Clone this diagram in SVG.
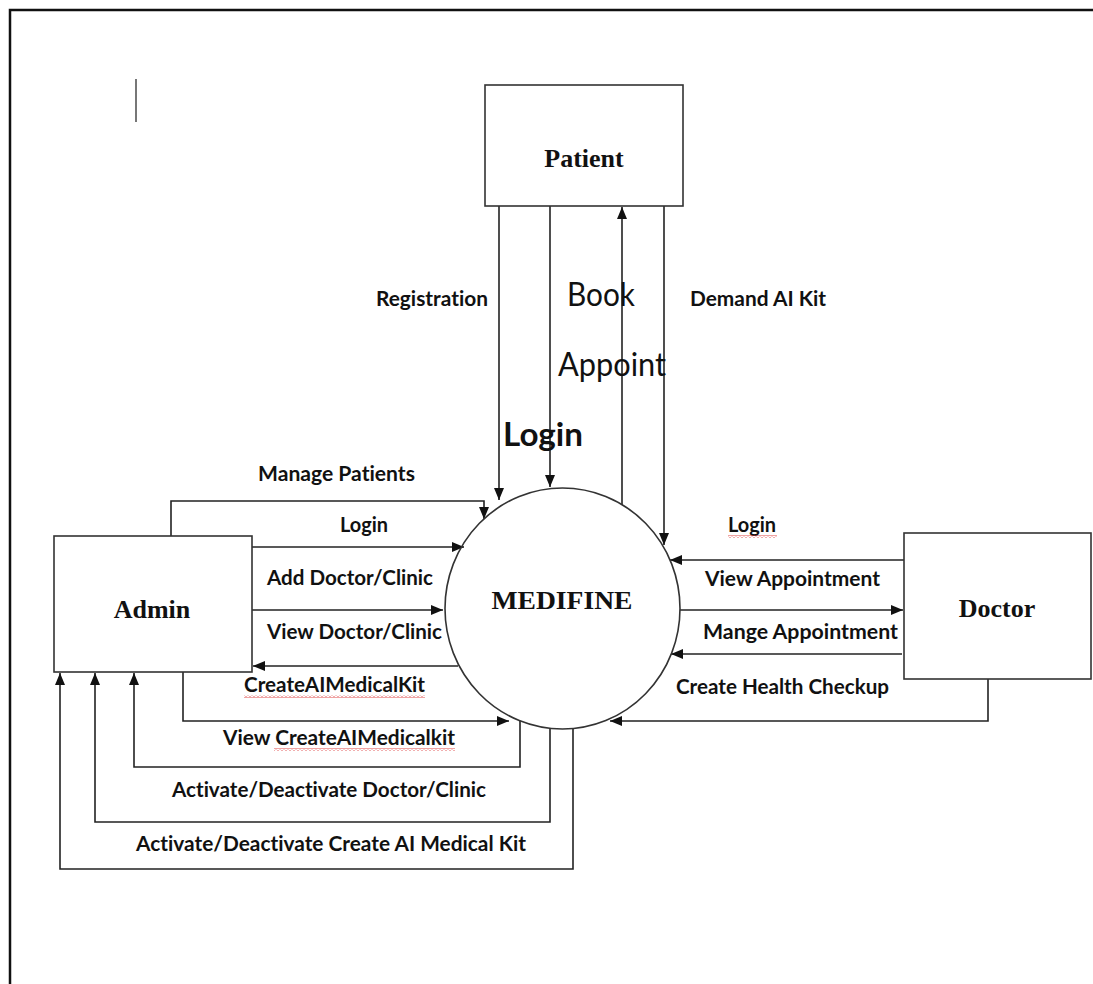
<svg xmlns="http://www.w3.org/2000/svg" width="1093" height="984" viewBox="0 0 1093 984">
<style>
.ln{stroke:#222;stroke-width:1.6;fill:none}
.ar{marker-end:url(#ah)}
.box{fill:#fff;stroke:#333;stroke-width:1.6}
.nt{font-family:"Liberation Serif","Times New Roman",serif;font-weight:bold;font-size:26px;fill:#111;text-anchor:middle}
.lb{font-family:Lato,"Open Sans",sans-serif;font-weight:bold;font-size:20.5px;fill:#111;font-variant-ligatures:none}
.big{font-family:Lato,"Open Sans",sans-serif;font-size:32px;fill:#111;font-variant-ligatures:none}
.sq{fill:url(#squiggle)}
</style>
<defs>
<marker id="ah" markerUnits="userSpaceOnUse" markerWidth="12" markerHeight="10" refX="12" refY="5" orient="auto">
<path d="M0,0 L12,5 L0,10 z" fill="#111"/>
</marker>
<pattern id="squiggle" patternUnits="userSpaceOnUse" width="4" height="3">
<path d="M0,2.5 L2,0.5 L4,2.5" stroke="#d33" stroke-width="0.9" fill="none"/>
</pattern>
</defs>
<rect width="1093" height="984" fill="#fff"/>
<path d="M10,984 V10 H1093" stroke="#111" stroke-width="2.5" fill="none"/>
<path d="M136,79 V122" stroke="#555" stroke-width="1.6"/>

<g id="connectors">
<path class="ln ar" d="M499,206 V500"/>
<path class="ln ar" d="M550,206 V487"/>
<path class="ln ar" d="M622,505 V207"/>
<path class="ln ar" d="M664,206 V545"/>
<path class="ln ar" d="M171,536 V501 H484 V519"/>
<path class="ln ar" d="M252,547 H464"/>
<path class="ln ar" d="M252,610 H443"/>
<path class="ln ar" d="M458,666 H253"/>
<path class="ln ar" d="M183,672 V721 H509"/>
<path class="ln ar" d="M520,721 V767 H134 V673"/>
<path class="ln ar" d="M550,728 V822 H95 V673"/>
<path class="ln ar" d="M573,728 V869 H60 V673"/>
<path class="ln ar" d="M904,560 H670"/>
<path class="ln ar" d="M680,610 H903"/>
<path class="ln ar" d="M902,654 H671"/>
<path class="ln ar" d="M988,679 V721 H610"/>
</g>

<g id="patient">
<rect class="box" x="485" y="85" width="198" height="121"/>
<text class="nt" x="584" y="167">Patient</text>
</g>
<g id="admin">
<rect class="box" x="54" y="536" width="198" height="136"/>
<text class="nt" x="152" y="618">Admin</text>
</g>
<g id="doctor">
<rect class="box" x="904" y="533" width="187" height="146"/>
<text class="nt" x="997" y="617">Doctor</text>
</g>
<g id="medifine">
<ellipse cx="562.5" cy="608.5" rx="117.5" ry="120.5" fill="none" stroke="#333" stroke-width="1.6"/>
<text class="nt" x="562" y="609" font-size="27" textLength="141" lengthAdjust="spacingAndGlyphs">MEDIFINE</text>
</g>

<g id="labels">
<text class="lb" x="376" y="306" textLength="112" lengthAdjust="spacingAndGlyphs">Registration</text>
<text class="big" x="567" y="306" textLength="68" lengthAdjust="spacingAndGlyphs">Book</text>
<text class="big" x="558" y="376" textLength="108" lengthAdjust="spacingAndGlyphs">Appoint</text>
<text class="big" x="503" y="446" font-weight="bold" font-size="36" textLength="80" lengthAdjust="spacingAndGlyphs">Login</text>
<text class="lb" x="690" y="306" textLength="136" lengthAdjust="spacingAndGlyphs">Demand AI Kit</text>
<text class="lb" x="258" y="481" textLength="157" lengthAdjust="spacingAndGlyphs">Manage Patients</text>
<text class="lb" x="340" y="532" textLength="48" lengthAdjust="spacingAndGlyphs">Login</text>
<text class="lb" x="267" y="585" textLength="166" lengthAdjust="spacingAndGlyphs">Add Doctor/Clinic</text>
<text class="lb" x="267" y="639" textLength="175" lengthAdjust="spacingAndGlyphs">View Doctor/Clinic</text>
<text class="lb" x="244" y="692" textLength="181" lengthAdjust="spacingAndGlyphs">CreateAIMedicalKit</text>
<rect class="sq" x="244" y="695" width="181" height="3"/>
<text class="lb" x="223" y="745" textLength="232" lengthAdjust="spacingAndGlyphs">View CreateAIMedicalkit</text>
<rect class="sq" x="274" y="748" width="181" height="3"/>
<text class="lb" x="172" y="797" textLength="314" lengthAdjust="spacingAndGlyphs">Activate/Deactivate Doctor/Clinic</text>
<text class="lb" x="136" y="851" textLength="390" lengthAdjust="spacingAndGlyphs">Activate/Deactivate Create AI Medical Kit</text>
<text class="lb" x="728" y="532" textLength="48" lengthAdjust="spacingAndGlyphs">Login</text>
<rect class="sq" x="728" y="535" width="49" height="3"/>
<text class="lb" x="705" y="586" textLength="175" lengthAdjust="spacingAndGlyphs">View Appointment</text>
<text class="lb" x="703" y="639" textLength="195" lengthAdjust="spacingAndGlyphs">Mange Appointment</text>
<text class="lb" x="676" y="694" textLength="213" lengthAdjust="spacingAndGlyphs">Create Health Checkup</text>
</g>
</svg>
